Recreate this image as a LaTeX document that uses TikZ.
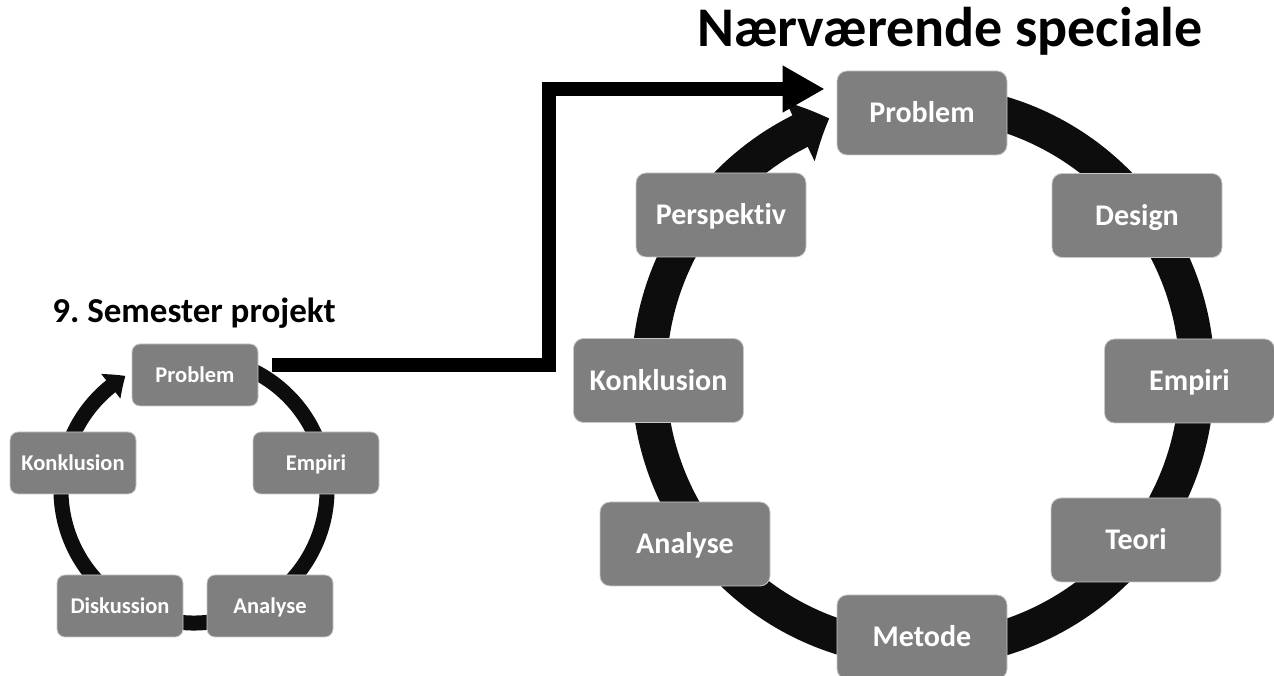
\documentclass[tikz,border=0pt]{standalone}
\usepackage{fontspec}
\setmainfont[Ligatures=NoCommon]{Carlito}
\usetikzlibrary{arrows.meta,bending}
\definecolor{boxgray}{HTML}{7F7F7F}
\definecolor{boxrim}{HTML}{C8C8C8}
\definecolor{ringblack}{HTML}{0D0D0D}
\frenchspacing
\begin{document}
\begin{tikzpicture}[x=1pt,y=1pt,
  stage/.style={draw=boxrim, line width=0.8pt, fill=boxgray, text=white,
    inner sep=0pt, align=center, text depth=0pt},
  bigstage/.style={stage, minimum width=170pt, minimum height=84pt,
    rounded corners=10pt, text height=19.3pt,
    font=\fontsize{30}{36}\selectfont\bfseries},
  smallstage/.style={stage, minimum width=126pt, minimum height=62pt,
    rounded corners=8pt, text height=14.5pt,
    font=\fontsize{22.5}{26}\selectfont\bfseries},
  bigring/.style={draw=ringblack, line width=35pt,
    -{Triangle[width=64pt,length=32pt,bend]}},
  smallring/.style={draw=ringblack, line width=15pt,
    -{Triangle[width=30pt,length=18pt,bend]}},
  jump/.style={draw=black, line width=14pt,
    -{Triangle[width=44pt,length=42pt]}},
  heading/.style={anchor=base, text=black}]
\useasboundingbox (0,0) rectangle (1274,676);

% centres of the two cycles
\coordinate (bc) at (923,300);
\coordinate (sc) at (194,186);

% cycle rings, drawn beneath the stage boxes
\draw[bigring] ([shift={(80:274)}]bc) arc[start angle=80, end angle=-250, radius=274];
\draw[smallring] ([shift={(70:133)}]sc) arc[start angle=70, end angle=-239, radius=133];

% large cycle
\node[bigstage] (bProblem)    at (922,563)    {Problem};
\node[bigstage] (bDesign)     at (1137,460.5) {Design};
\node[bigstage] (bEmpiri)     at (1189.5,295) {Empiri};
\node[bigstage] (bTeori)      at (1136,136)   {Teori};
\node[bigstage] (bMetode)     at (922,39)     {Metode};
\node[bigstage] (bAnalyse)    at (685,132)    {Analyse};
\node[bigstage] (bKonklusion) at (658.5,295.5){Konklusion};
\node[bigstage] (bPerspektiv) at (721,461)    {Perspektiv};

% small cycle
\node[smallstage] (sProblem)    at (195,301) {Problem};
\node[smallstage] (sEmpiri)     at (316,213) {Empiri};
\node[smallstage] (sKonklusion) at (73,213)  {Konklusion};
\node[smallstage] (sDiskussion) at (120,70)  {Diskussion};
\node[smallstage] (sAnalyse)    at (270,70)  {Analyse};

% headings
\node[heading, font=\fontsize{56}{64}\selectfont\bfseries] (bigtitle) at (950,629) {Nærværende speciale};
\node[heading, font=\fontsize{35}{42}\selectfont\bfseries] (smalltitle) at (194,353) {9. Semester projekt};

% elbow arrow from the small cycle to the large one
\coordinate (from) at ([xshift=14pt,yshift=10pt]sProblem.east);
\coordinate (to)   at ([xshift=-12pt,yshift=24pt]bProblem.west);
\coordinate (turn) at (549,0);
\draw[jump] (from) -| (turn |- to) -- (to);
\end{tikzpicture}
\end{document}
